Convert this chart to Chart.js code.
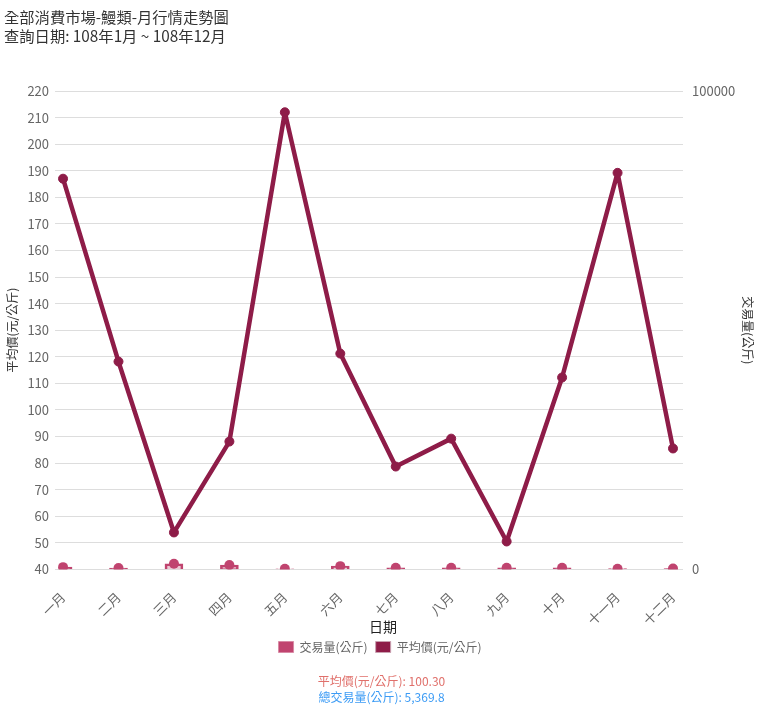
<!DOCTYPE html>
<html>
<head>
<meta charset="utf-8">
<script src="https://cdn.jsdelivr.net/npm/chart.js@4.4.1/dist/chart.umd.min.js"></script>
<style>
  html, body { margin: 0; padding: 0; background: #fff; }
  body { width: 763px; height: 720px; position: relative; overflow: hidden; font-family: "Noto Sans CJK TC", "Noto Sans", sans-serif; }
  #title { position: absolute; left: 4px; top: 7px; font-size: 15.3px; line-height: 19px; color: #333; }
  #wrap { position: absolute; left: 0; top: 0; width: 763px; height: 720px; }
  #xtitle { position: absolute; left: 0; width: 763px; top: 616px; text-align: center; font-size: 14px; line-height: 20px; color: #222; padding-left: 3px; box-sizing: border-box; }
  #footer { position: absolute; left: 0; width: 763px; top: 673px; text-align: center; font-size: 12px; line-height: 16px; }
  #f1 { color: #e0706b; }
  #f2 { color: #3d9cf5; }
</style>
</head>
<body>
<div id="wrap"><canvas id="c" width="763" height="720"></canvas></div>
<div id="title">全部消費市場-鰻類-月行情走勢圖<br>查詢日期: 108年1月 ~ 108年12月</div>
<div id="xtitle">日期</div>
<div id="footer"><div id="f1">平均價(元/公斤): 100.30</div><div id="f2">總交易量(公斤): 5,369.8</div></div>
<script>
const months = ["一月","二月","三月","四月","五月","六月","七月","八月","九月","十月","十一月","十二月"];
const avgPrice = [187, 118.2, 53.9, 88.1, 212, 121.2, 78.7, 89.2, 50.5, 112.2, 189.2, 85.5];
const volume = [470, 290, 1180, 900, 140, 680, 350, 340, 340, 340, 150, 189.8];
const rightTickLabels = [0, 100000];

const pink = '#c0446f';
const dark = '#8e1c48';
const font = "'Noto Sans CJK TC', 'Noto Sans', sans-serif";

new Chart(document.getElementById('c'), {
  data: {
    labels: months,
    datasets: [
      {
        type: 'bar', label: '交易量(公斤)', data: volume, yAxisID: 'y1',
        backgroundColor: 'rgba(192,68,111,0.3)', borderColor: pink, borderWidth: 2,
        barThickness: 18
      },
      {
        type: 'line', label: '平均價(元/公斤)', data: avgPrice, yAxisID: 'y',
        borderColor: dark, backgroundColor: dark, borderWidth: 4.5, tension: 0, borderJoinStyle: 'round',
        pointRadius: 4.5, pointBorderWidth: 1, pointBackgroundColor: dark, pointBorderColor: dark, fill: false
      },
      {
        type: 'line', label: '_pts', data: volume, yAxisID: 'y1', showLine: false,
        pointRadius: 5, pointBorderWidth: 0, pointBackgroundColor: pink, pointBorderColor: pink, borderColor: pink, backgroundColor: pink
      }
    ]
  },
  options: {
    responsive: false,
    animation: false,
    layout: { padding: { top: 91, left: 3, right: 6, bottom: 57 } },
    plugins: {
      tooltip: { enabled: false },
      legend: {
        position: 'bottom',
        labels: {
          boxWidth: 15, boxHeight: 11, color: '#666', font: { family: font, size: 12 }, padding: 8,
          filter: item => item.text !== '_pts',
          generateLabels: chart => Chart.defaults.plugins.legend.labels.generateLabels(chart).map(l => {
            if (l.datasetIndex === 0) { l.fillStyle = pink; l.strokeStyle = '#d88aa5'; l.lineWidth = 1; }
            if (l.datasetIndex === 1) { l.fillStyle = dark; l.strokeStyle = '#c9a0b0'; l.lineWidth = 1; }
            return l;
          })
        }
      }
    },
    scales: {
      x: {
        offset: false,
        afterFit: s => { s.height = s.height - 7; },
        grid: { display: false },
        border: { display: false },
        ticks: { color: '#666', font: { family: font, size: 13 }, minRotation: 45, maxRotation: 45, padding: 12 },
        title: { display: false }
      },
      y: {
        position: 'left', min: 40, max: 220,
        ticks: { stepSize: 10, color: '#666', font: { family: font, size: 13 }, padding: 6 },
        grid: { color: '#dddddd', tickLength: 8 },
        border: { display: false },
        title: { display: true, text: '平均價(元/公斤)', color: '#333', font: { family: font, size: 12 }, padding: 2 }
      },
      y1: {
        position: 'right', min: 0, max: 100000,
        afterFit: s => { s.width = 84; },
        ticks: {
          count: 19, color: '#666', font: { family: font, size: 13 }, padding: 9,
          callback: v => rightTickLabels.includes(Math.round(v)) ? String(Math.round(v)) : ''
        },
        grid: { drawOnChartArea: false, color: '#dddddd', tickLength: 10 },
        border: { display: false },
        title: { display: true, text: '交易量(公斤)', color: '#333', font: { family: font, size: 12 }, padding: 2 }
      }
    }
  }
});
</script>
</body>
</html>
